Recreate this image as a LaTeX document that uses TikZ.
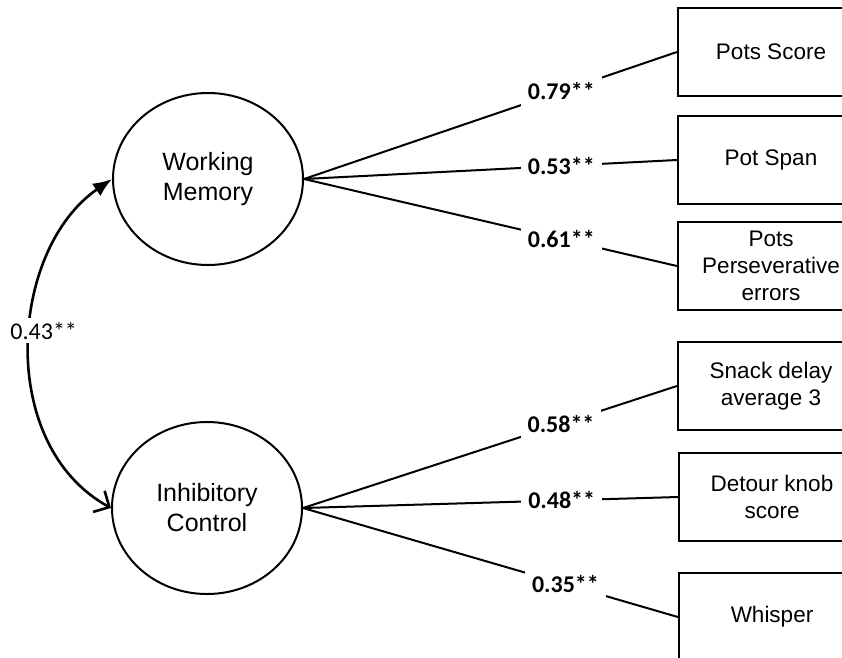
\documentclass[tikz,border=0pt]{standalone}
\usepackage{fontspec}
\setmainfont{Liberation Sans}
\newfontfamily\loadfont{Carlito}
\usetikzlibrary{positioning,shapes.geometric,arrows.meta}

\begin{document}
\begin{tikzpicture}[x=1pt,y=-1pt,
  thick,
  latent/.style={
    ellipse,
    draw=black,
    line width=2pt,
    minimum width=190pt,
    minimum height=172pt,
    align=center,
    font=\fontsize{25}{30}\selectfont,
  },
  measure/.style={
    rectangle,
    draw=black,
    line width=2.2pt,
    minimum width=186pt,
    minimum height=88pt,
    align=center,
    font=\fontsize{22.5}{27}\selectfont,
  },
  link/.style={line width=2pt},
  loading/.style={fill=white, inner sep=7pt, pos=0.69,
    font=\loadfont\bfseries\fontsize{24}{28}\selectfont},
  corr/.style={line width=2.6pt,
    {Latex[length=19pt,width=15pt]}-{Straight Barb[length=12pt,width=24pt]}}]
\useasboundingbox (0,0) rectangle (842,657);
\clip (0,0) rectangle (842,657);
\node[latent] (wm) at (208,179) {Working\\Memory};
\node[latent] (ic) at (207,508) {Inhibitory\\Control};
\node[measure] (potsScore) at (771,52) {Pots Score};
\node[measure] (potSpan) at (771,160) {Pot Span};
\node[measure] (potsPersev) at (771,266) {Pots\\Perseverative\\errors};
\node[measure] (snackDelay) at (771,386) {Snack delay\\average 3};
\node[measure] (detourKnob) at (772,497) {Detour knob\\score};
\node[measure] (whisper) at (772,617) {Whisper};
\path (wm.east) edge[link] node[loading] {0.79**} (potsScore.west)
  (wm.east) edge[link] node[loading] {0.53**} (potSpan.west)
  (wm.east) edge[link] node[loading] {0.61**} (potsPersev.west)
  (ic.east) edge[link] node[loading] {0.58**} (snackDelay.west)
  (ic.east) edge[link] node[loading] {0.48**} (detourKnob.west)
  (ic.east) edge[link] node[loading,pos=0.7] {0.35**} (whisper.west);
\draw[corr] (wm.west) .. controls (9,250) and (-4,445) .. (ic.west)
  node[pos=0.46, xshift=13pt, fill=white, inner sep=4pt,
    font=\loadfont\fontsize{24}{28}\selectfont] (r) {0.43**};
\end{tikzpicture}
\end{document}
